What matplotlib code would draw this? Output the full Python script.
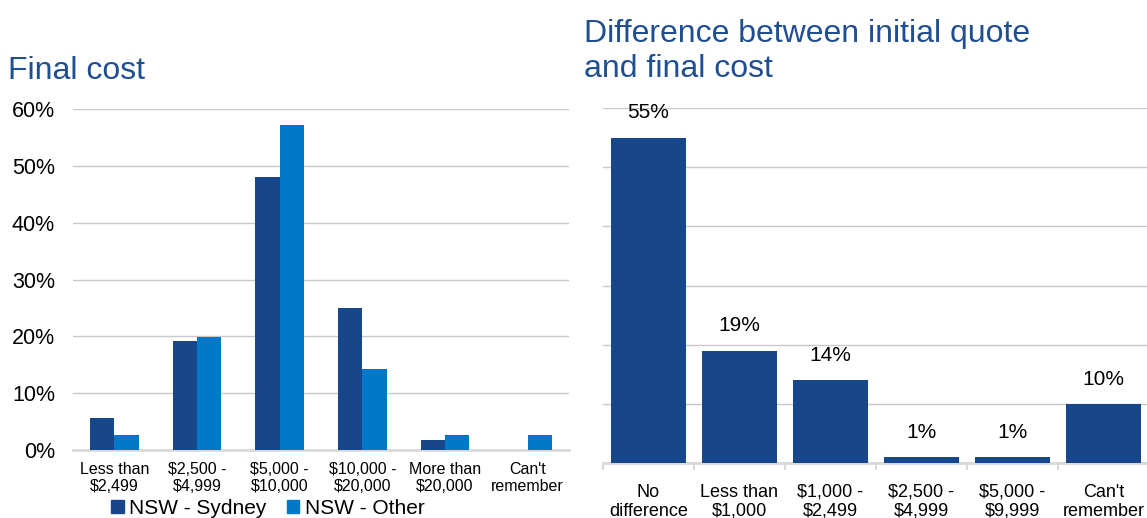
import matplotlib.pyplot as plt
import numpy as np
from matplotlib.patches import Patch
from matplotlib.ticker import MultipleLocator

plt.rcParams['font.family'] = ['Liberation Sans', 'DejaVu Sans']

# final cost, share of respondents (%)
cost_labels = ['Less than\n$2,499', '$2,500 -\n$4,999', '$5,000 -\n$10,000',
               '$10,000 -\n$20,000', 'More than\n$20,000', "Can't\nremember"]
sydney = [5.6, 19.1, 48.0, 24.9, 1.8, 0.0]
other = [2.7, 19.9, 57.1, 14.2, 2.7, 2.7]

# difference between the initial quote and the final cost (%)
diff_labels = ['No\ndifference', 'Less than\n$1,000', '$1,000 -\n$2,499',
               '$2,500 -\n$4,999', '$5,000 -\n$9,999', "Can't\nremember"]
diff_values = [55, 19, 14, 1, 1, 10]

dark_blue = '#17468a'
light_blue = '#0078c8'
title_blue = '#1f4e91'
grid_grey = '#c9c9c9'

fig = plt.figure(figsize=(11.47, 5.18), dpi=100)

# left: grouped bars
ax1 = fig.add_axes([73 / 1147, 68 / 518, 496 / 1147, 341 / 518])
x = np.arange(len(cost_labels))
w = 0.296
ax1.bar(x - w / 2, sydney, w, color=dark_blue, zorder=3)
ax1.bar(x + w / 2, other, w, color=light_blue, zorder=3)
ax1.set_xlim(-0.5, len(cost_labels) - 0.5)
ax1.set_ylim(0, 60)
ax1.yaxis.set_major_locator(MultipleLocator(10))
ax1.set_yticklabels(['%d%%' % v for v in ax1.get_yticks()])
ax1.set_xticks(x)
ax1.set_xticklabels(cost_labels, fontsize=11.5, linespacing=1.15)
ax1.tick_params(axis='y', length=0, labelsize=15.5, pad=13)
ax1.tick_params(axis='x', length=0, pad=9)
ax1.yaxis.grid(True, color=grid_grey, lw=1, zorder=0)
for s in ['top', 'right', 'left']:
    ax1.spines[s].set_visible(False)
ax1.spines['bottom'].set_color('#d9d9d9')
ax1.spines['bottom'].set_linewidth(2)

fig.text(8 / 1147, 1 - 79 / 518, 'Final cost', fontsize=23, color=title_blue,
         va='baseline', ha='left')

fig.legend(handles=[Patch(color=dark_blue, label='NSW - Sydney'),
                    Patch(color=light_blue, label='NSW - Other')],
           loc='center left', bbox_to_anchor=(111 / 1147, 10 / 518), ncol=2,
           frameon=False, fontsize=15, handlelength=0.6, handleheight=0.6,
           handletextpad=0.25, columnspacing=1.0, borderaxespad=0, borderpad=0)

# right: single series with value labels
ax2 = fig.add_axes([603 / 1147, 55 / 518, 546 / 1147, 355 / 518])
x2 = np.arange(len(diff_labels))
bars = ax2.bar(x2, diff_values, 0.83, color=dark_blue, zorder=3)
for b, v in zip(bars, diff_values):
    ax2.annotate('%d%%' % v, (b.get_x() + b.get_width() / 2, v),
                 xytext=(0, 11), textcoords='offset points',
                 ha='center', va='bottom', fontsize=15)
ax2.set_xlim(-0.5, len(diff_labels) - 0.5)
ax2.set_ylim(0, 60)
ax2.yaxis.set_major_locator(MultipleLocator(10))
ax2.set_yticklabels([])
ax2.set_xticks(x2)
ax2.set_xticklabels(diff_labels, fontsize=13, linespacing=1.15)
ax2.set_xticks(np.arange(-0.5, len(diff_labels)), minor=True)
ax2.tick_params(axis='y', length=0)
ax2.tick_params(axis='x', which='major', length=0, pad=15)
ax2.tick_params(axis='x', which='minor', length=5, width=1.5, color='#d9d9d9')
ax2.yaxis.grid(True, color=grid_grey, lw=1, zorder=0)
for s in ['top', 'right', 'left']:
    ax2.spines[s].set_visible(False)
ax2.spines['bottom'].set_color('#d9d9d9')
ax2.spines['bottom'].set_linewidth(2)

fig.text(584 / 1147, 1 - 77 / 518,
         'Difference between initial quote\nand final cost',
         fontsize=23, color=title_blue, va='baseline', ha='left',
         linespacing=1.2)

plt.savefig('out.png', dpi=100)
